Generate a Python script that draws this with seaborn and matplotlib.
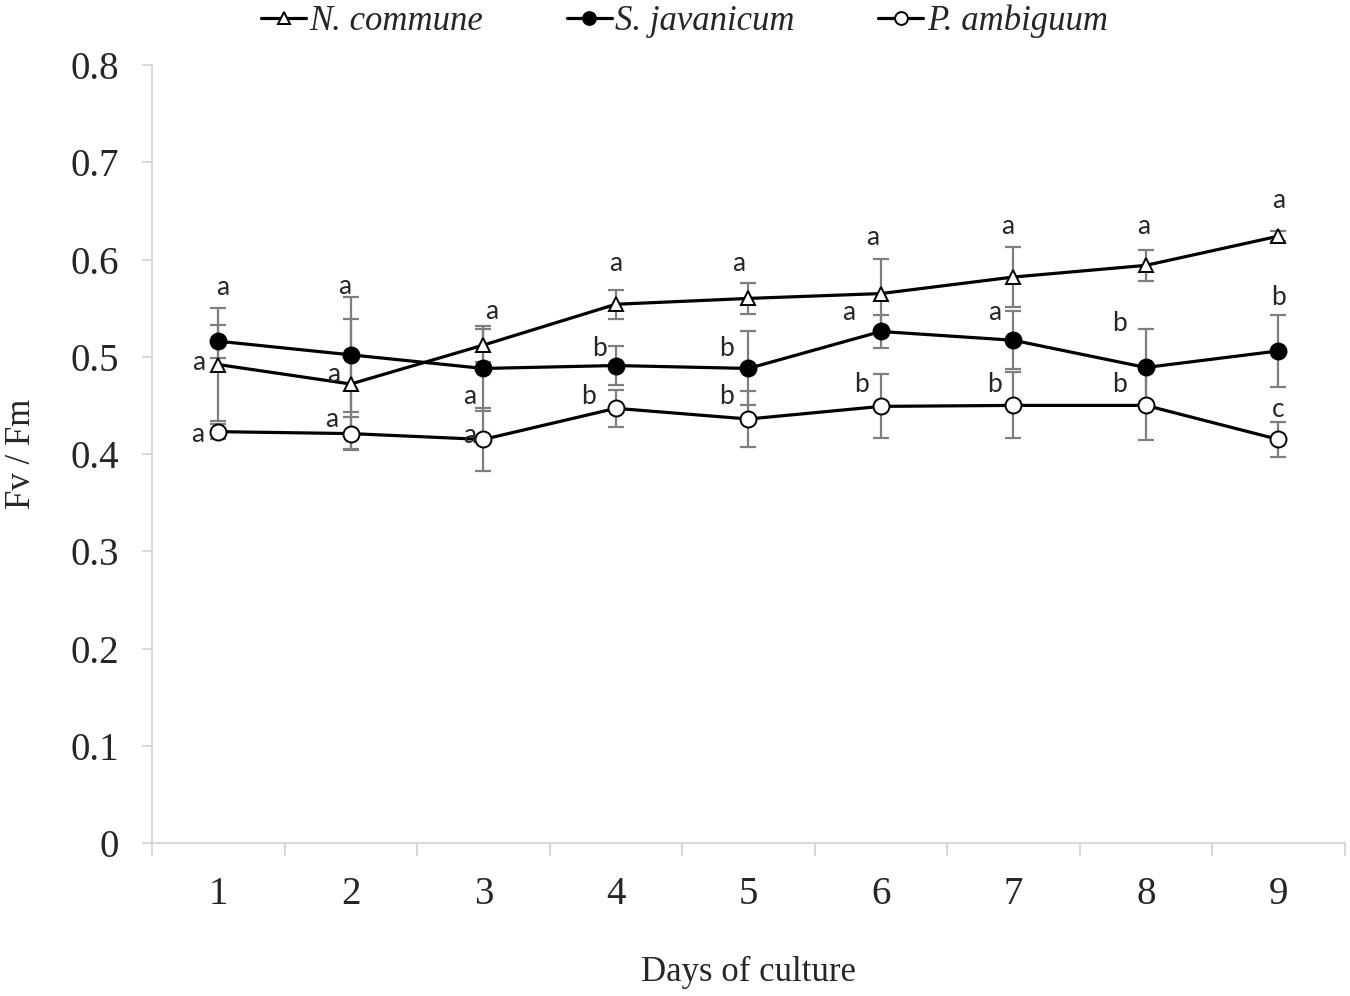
import matplotlib
matplotlib.use('Agg')
import matplotlib.pyplot as plt
import seaborn as sns
import numpy as np

days = [1, 2, 3, 4, 5, 6, 7, 8, 9]

# Fv/Fm means and error bars
n_commune = [0.492, 0.472, 0.512, 0.554, 0.560, 0.565, 0.582, 0.594, 0.624]
n_commune_err = [0.058, 0.067, 0.017, 0.015, 0.016, 0.036, 0.031, 0.016, 0.005]
s_javanicum = [0.516, 0.502, 0.488, 0.491, 0.488, 0.526, 0.517, 0.489, 0.506]
s_javanicum_err = [0.017, 0.059, 0.044, 0.020, 0.038, 0.017, 0.030, 0.040, 0.037]
p_ambiguum = [0.423, 0.421, 0.415, 0.447, 0.436, 0.449, 0.450, 0.450, 0.415]
p_ambiguum_err = [0.008, 0.017, 0.032, 0.019, 0.029, 0.033, 0.034, 0.036, 0.018]

# significance letters
n_commune_letters = ['a', 'a', 'a', 'a', 'a', 'a', 'a', 'a', 'a']
s_javanicum_letters = ['a', 'a', 'a', 'b', 'b', 'a', 'a', 'b', 'b']
p_ambiguum_letters = ['a', 'a', 'a', 'b', 'b', 'b', 'b', 'b', 'c']

# letter offsets from the point, in pixels
n_commune_offs = [(-20, 2), (-17, 10), (8, 34), (0, 41), (-10, 35), (-8, 56), (-6, 51), (-2, 39), (0, 36)]
s_javanicum_offs = [(4, 54), (-6, 68), (-14, -28), (-16, 17), (-22, 20), (-32, 19), (-19, 28), (-26, 44), (0, 53)]
p_ambiguum_offs = [(-21, -3), (-19, 14), (-14, 4), (-27, 12), (-22, 23), (-19, 22), (-19, 21), (-26, 21), (0, 30)]

series = [
    ('N. commune', n_commune, n_commune_err, n_commune_letters, n_commune_offs, '^', 'white', 10),
    ('S. javanicum', s_javanicum, s_javanicum_err, s_javanicum_letters, s_javanicum_offs, 'o', 'black', 11.5),
    ('P. ambiguum', p_ambiguum, p_ambiguum_err, p_ambiguum_letters, p_ambiguum_offs, 'o', 'white', 11.5),
]

sns.set_style('ticks')
plt.rcParams['font.family'] = ['Liberation Serif', 'DejaVu Serif']

fig = plt.figure(figsize=(13.5, 9.96), dpi=100)
ax = fig.add_axes([0.1126, 0.1536, 0.8834, 0.7811])

grey = '#d9d9d9'

for name, vals, err, letters, offs, mk, face, ms in series:
    ax.errorbar(days, vals, yerr=err, fmt='none', ecolor='#7f7f7f', elinewidth=1.6,
                capsize=6, capthick=1.6, zorder=1)
    sns.lineplot(x=days, y=vals, ax=ax, color='black', linewidth=2.3, marker=mk,
                 markersize=ms, markerfacecolor=face, markeredgecolor='black',
                 markeredgewidth=1.4, label=name, zorder=3, legend=False)
    for d, v, lt, (dx, dy) in zip(days, vals, letters, offs):
        ax.annotate(lt, (d, v), xytext=(dx, dy), textcoords='offset pixels',
                    ha='center', va='center', fontsize=19, family='Lato',
                    zorder=4)

ax.set_xlim(0.5, 9.5)
ax.set_ylim(0, 0.8)
ax.set_yticks(np.arange(0, 0.81, 0.1))
ax.set_yticklabels(['0'] + ['%.1f' % v for v in np.arange(0.1, 0.81, 0.1)])
ax.set_xticks(np.arange(0.5, 9.6, 1))
ax.set_xticklabels([])
ax.set_xticks(days, minor=True)
ax.set_xticklabels([str(d) for d in days], minor=True)

ax.tick_params(axis='y', which='major', length=7, width=1.5, color=grey, labelsize=28, pad=17)
ax.tick_params(axis='x', which='major', length=9, width=1.5, color=grey)
ax.tick_params(axis='x', which='minor', length=0, labelsize=28, pad=24)

for s in ['top', 'right']:
    ax.spines[s].set_visible(False)
for s in ['left', 'bottom']:
    ax.spines[s].set_color(grey)
    ax.spines[s].set_linewidth(1.5)

ax.set_xlabel('Days of culture', fontsize=25, labelpad=31)
ax.set_ylabel('Fv / Fm', fontsize=25)
ax.yaxis.set_label_coords(-0.096, 0.5)

handles, labels = ax.get_legend_handles_labels()
fig.legend(handles, labels, loc='upper center', bbox_to_anchor=(0.507, 1.027), ncol=3,
           frameon=False, handlelength=1.3, handletextpad=0.1, columnspacing=2.4,
           prop={'family': 'Liberation Serif', 'style': 'italic', 'size': 25},
           markerscale=0.8)

fig.savefig('out.png', dpi=100)
